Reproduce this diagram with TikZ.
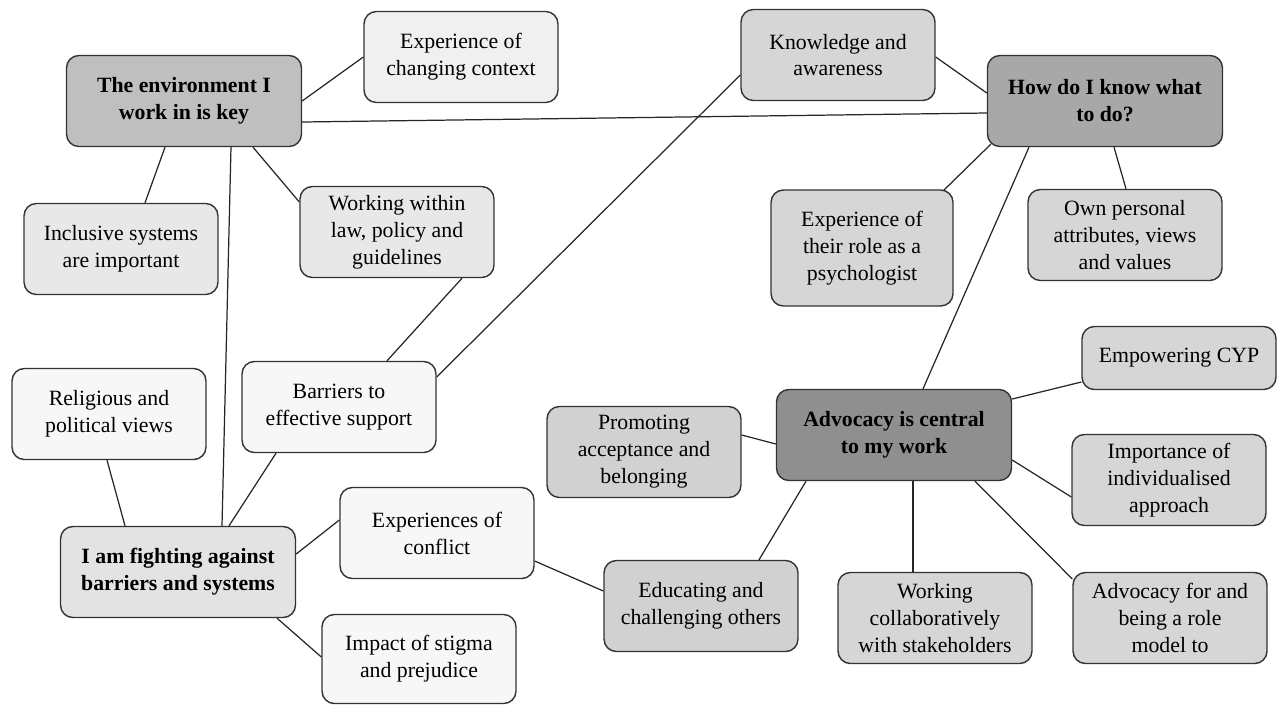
\documentclass[tikz,border=0pt]{standalone}
\usepackage{fontspec}
\setmainfont{Liberation Serif}
\usepackage{tikz}

\tikzset{
  box/.style={draw=black!80, line width=0.8pt, rounded corners=7pt, align=center,
    minimum width=3.88cm, minimum height=1.82cm, inner sep=1pt,
    font=\fontsize{12.4}{15.3}\selectfont},
  theme/.style={box, minimum width=4.7cm, font=\fontsize{12.4}{15.3}\selectfont\bfseries},
  link/.style={line width=0.7pt, black!85},
}

\begin{document}
\begin{tikzpicture}[x=0.02cm,y=-0.02cm]
\useasboundingbox (0,0) rectangle (1277,704);

% themes
\node[theme,fill=black!25] (env) at (184,101) {The environment I\\work in is key};
\node[theme,fill=black!34] (how) at (1105,101) {How do I know what\\to do?};
\node[theme,fill=black!44] (adv) at (894,435) {Advocacy is central\\to my work};
\node[theme,fill=black!11] (fight) at (178,572) {I am fighting against\\barriers and systems};

% subthemes
\node[box,fill=black!6] (expctx) at (461,57) {Experience of\\changing context};
\node[box,fill=black!9] (incl) at (121,249) {Inclusive systems\\are important};
\node[box,fill=black!9] (wlaw) at (397,232) {Working within\\law, policy and\\guidelines};
\node[box,fill=black!16] (know) at (838,55) {Knowledge and\\awareness};
\node[box,fill=black!16,minimum width=3.64cm,minimum height=2.32cm] (exprole) at (862,248) {Experience of\\their role as a\\psychologist};
\node[box,fill=black!16] (own) at (1125,235) {Own personal\\attributes, views\\and values};
\node[box,fill=black!16,minimum height=1.26cm] (empower) at (1179,358) {Empowering CYP};
\node[box,fill=black!18] (prom) at (644,452) {Promoting\\acceptance and\\belonging};
\node[box,fill=black!16] (impind) at (1169,480) {Importance of\\individualised\\approach};
\node[box,fill=black!3] (relig) at (109,414) {Religious and\\political views};
\node[box,fill=black!3] (barr) at (339,407) {Barriers to\\effective support};
\node[box,fill=black!3] (expconf) at (437,533) {Experiences of\\conflict};
\node[box,fill=black!3,minimum height=1.78cm] (impact) at (419,659) {Impact of stigma\\and prejudice};
\node[box,fill=black!18] (edu) at (701,606) {Educating and\\challenging others};
\node[box,fill=black!16] (collab) at (935,618) {Working\\collaboratively\\with stakeholders};
\node[box,fill=black!16] (advrole) at (1170,618) {Advocacy for and\\being a role\\model to};

% links
\draw[link] (env.east) -- (expctx.west);
\draw[link] ([shift={(0,21)}]env.east) -- ([shift={(0,12)}]how.west);
\draw[link] ([shift={(-19,0)}]env.south) -- ([shift={(24,0)}]incl.north);
\draw[link] ([shift={(47,0)}]env.south) -- ([shift={(44,0)}]fight.north);
\draw[link] ([shift={(69,0)}]env.south) -- ([shift={(0,-30)}]wlaw.west);
\draw[link] ([shift={(65,0)}]wlaw.south) -- ([shift={(48,0)}]barr.north);
\draw[link] ([shift={(0,20)}]know.west) -- ([shift={(0,-30)}]barr.east);
\draw[link] ([shift={(0,2)}]know.east) -- ([shift={(0,-8)}]how.west);
\draw[link] ([shift={(4,-3)}]how.south west) -- ([shift={(-10,1)}]exprole.north east);
\draw[link] ([shift={(-76,0)}]how.south) -- ([shift={(29,0)}]adv.north);
\draw[link] ([shift={(9,0)}]how.south) -- ([shift={(1,0)}]own.north);
\draw[link] ([shift={(0,-36)}]adv.east) -- ([shift={(0,24)}]empower.west);
\draw[link] ([shift={(0,9)}]adv.west) -- ([shift={(0,-17)}]prom.east);
\draw[link] ([shift={(0,25)}]adv.east) -- ([shift={(0,17)}]impind.west);
\draw[link] ([shift={(-88,0)}]adv.south) -- ([shift={(58,0)}]edu.north);
\draw[link] ([shift={(19,0)}]adv.south) -- ([shift={(-22,0)}]collab.north);
\draw[link] ([shift={(81,0)}]adv.south) -- ([shift={(0,-39)}]advrole.west);
\draw[link] ([shift={(-2,0)}]relig.south) -- ([shift={(-53,0)}]fight.north);
\draw[link] ([shift={(-63,0)}]barr.south) -- ([shift={(51,0)}]fight.north);
\draw[link] ([shift={(0,-18)}]fight.east) -- ([shift={(0,-13)}]expconf.west);
\draw[link] ([shift={(99,0)}]fight.south) -- ([shift={(0,-2)}]impact.west);
\draw[link] ([shift={(0,28)}]expconf.east) -- ([shift={(0,-15)}]edu.west);

\end{tikzpicture}
\end{document}
